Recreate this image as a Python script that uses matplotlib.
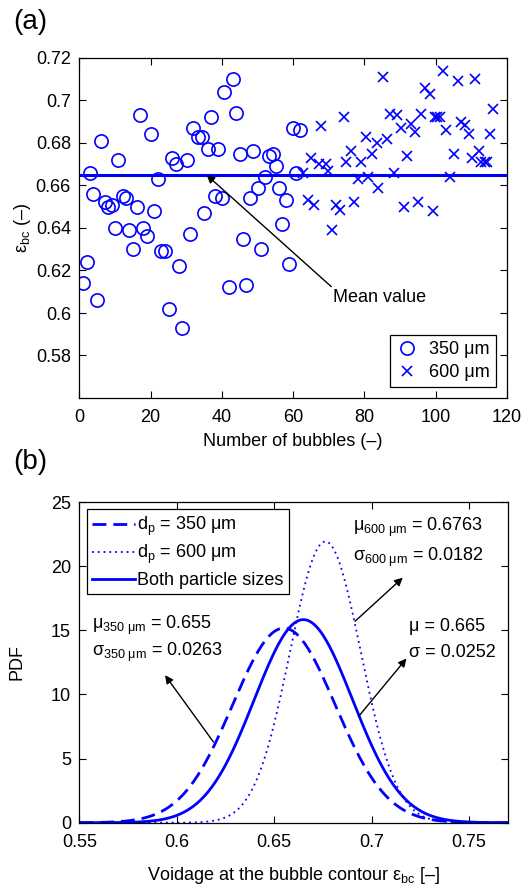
import numpy as np
import matplotlib
matplotlib.use('Agg')
import matplotlib.pyplot as plt

plt.rcParams['font.family'] = ['Liberation Sans', 'DejaVu Sans']
plt.rcParams['mathtext.fontset'] = 'custom'
plt.rcParams['mathtext.rm'] = 'Liberation Sans'
plt.rcParams['mathtext.it'] = 'Liberation Sans:italic'
plt.rcParams['mathtext.default'] = 'regular'

# DATA - panel (a): voidage at the bubble contour per bubble
x_350 = [0.9, 2.1, 3.0, 3.9, 4.9, 6.1, 7.2, 8.1, 9.1, 10.0, 10.9, 12.2, 13.0, 14.0,
         15.1, 16.1, 17.0, 17.9, 19.0, 20.1, 21.0, 22.2, 22.9, 24.0, 25.1, 25.9,
         27.0, 28.0, 28.9, 30.1, 31.0, 32.0, 33.2, 34.3, 35.0, 36.0, 36.9, 38.0,
         39.0, 39.9, 40.6, 42.1, 43.2, 43.9, 45.0, 46.0, 46.9, 48.0, 48.8, 50.2,
         51.1, 52.0, 53.3, 54.4, 55.1, 56.1, 57.0, 58.1, 58.8, 60.0, 60.9, 61.9]
eps_350 = [0.614, 0.624, 0.666, 0.656, 0.606, 0.681, 0.652, 0.650, 0.651, 0.640,
           0.672, 0.655, 0.654, 0.639, 0.630, 0.650, 0.693, 0.640, 0.636, 0.684,
           0.648, 0.663, 0.629, 0.629, 0.602, 0.673, 0.670, 0.622, 0.593, 0.672,
           0.637, 0.687, 0.683, 0.683, 0.647, 0.677, 0.692, 0.655, 0.677, 0.654,
           0.704, 0.612, 0.710, 0.694, 0.675, 0.635, 0.613, 0.654, 0.676, 0.659,
           0.630, 0.664, 0.674, 0.675, 0.669, 0.659, 0.642, 0.653, 0.623, 0.687,
           0.666, 0.686]

x_600 = [62.8, 64.2, 65.1, 65.9, 67.3, 67.9, 69.1, 69.8, 70.9, 72.1, 73.1, 74.2,
         74.9, 76.1, 77.2, 78.2, 79.1, 80.3, 81.0, 82.1, 83.4, 83.8, 85.2, 86.2,
         87.1, 88.2, 89.2, 90.2, 91.1, 92.0, 93.2, 94.1, 95.0, 96.0, 96.9, 98.3,
         99.2, 99.7, 100.4, 101.1, 102.0, 103.0, 104.1, 105.1, 106.2, 107.2, 108.1,
         109.2, 110.1, 111.1, 112.1, 112.8, 113.7, 114.5, 115.1, 116.0]
eps_600 = [0.666, 0.653, 0.673, 0.651, 0.670, 0.688, 0.670, 0.667, 0.639, 0.651,
           0.6485, 0.692, 0.671, 0.676, 0.652, 0.663, 0.671, 0.683, 0.664, 0.675,
           0.680, 0.659, 0.711, 0.682, 0.6935, 0.666, 0.693, 0.687, 0.650, 0.674,
           0.689, 0.685, 0.652, 0.6935, 0.706, 0.703, 0.648, 0.692, 0.692, 0.692,
           0.714, 0.686, 0.664, 0.675, 0.709, 0.690, 0.6885, 0.684, 0.673, 0.710,
           0.676, 0.671, 0.671, 0.671, 0.684, 0.696]

eps_mean = 0.665

# DATA - panel (b): normal fits (mean, std) as stated on the chart
fit_labels = ['d$_p$ = 350 μm', 'd$_p$ = 600 μm', 'Both particle sizes']
fit_mu = [0.655, 0.6763, 0.665]
fit_sigma = [0.0263, 0.0182, 0.0252]
fit_styles = [dict(ls=(0, (5, 2.5)), lw=2.0), dict(ls=(0, (1, 2.2)), lw=1.3), dict(ls='-', lw=2.0)]

blue = '#0000ff'
fs = 13

fig = plt.figure(figsize=(5.23, 8.88), dpi=100)

# PANEL (a)
ax1 = fig.add_axes([79.3 / 523, 1 - 398 / 888, (507 - 79.3) / 523, (398 - 58) / 888])
ax1.plot(x_350, eps_350, 'o', mfc='none', mec=blue, ms=9.5, mew=1.2, label='350 μm')
ax1.plot(x_600, eps_600, 'x', color=blue, ms=7, mew=1.2, label='600 μm')
ax1.axhline(eps_mean, color=blue, lw=2.2)
ax1.annotate('', xy=(35.7, 0.665), xytext=(70.7, 0.6124),
             arrowprops=dict(arrowstyle='-|>', color='k', lw=1, mutation_scale=12,
                             shrinkA=0, shrinkB=0))
ax1.text(71.2, 0.6073, 'Mean value', fontsize=fs, va='center', ha='left')

ax1.set_xlim(0, 120)
ax1.set_ylim(0.56, 0.72)
ax1.set_xticks(range(0, 121, 20))
yt = [0.58, 0.60, 0.62, 0.64, 0.66, 0.68, 0.70, 0.72]
ax1.set_yticks(yt)
ax1.set_yticklabels(['0.58', '0.6', '0.62', '0.64', '0.66', '0.68', '0.7', '0.72'])
ax1.set_xlabel('Number of bubbles (–)', fontsize=fs, labelpad=5)
ax1.set_ylabel('ε$_{bc}$ (–)', fontsize=fs, labelpad=2)
leg1 = ax1.legend(loc='lower right', fontsize=fs, frameon=True, fancybox=False,
                  edgecolor='k', framealpha=1, handlelength=1.2, handletextpad=0.6,
                  borderpad=0.35, labelspacing=0.3, borderaxespad=0.6)
leg1.get_frame().set_linewidth(0.9)

# PANEL (b)
ax2 = fig.add_axes([79.3 / 523, 1 - 822.7 / 888, (508 - 79.3) / 523, (822.7 - 502) / 888])
xx = np.linspace(0.55, 0.77, 600)
for lab, mu, sg, st in zip(fit_labels, fit_mu, fit_sigma, fit_styles):
    pdf = np.exp(-0.5 * ((xx - mu) / sg) ** 2) / (sg * np.sqrt(2 * np.pi))
    ax2.plot(xx, pdf, color=blue, label=lab, **st)

arr = dict(arrowstyle='-|>', color='k', lw=1, mutation_scale=12, shrinkA=0, shrinkB=0)
ax2.annotate('', xy=(0.716, 19.1), xytext=(0.6915, 15.7), arrowprops=arr)
ax2.annotate('', xy=(0.594, 11.5), xytext=(0.6188, 6.3), arrowprops=arr)
ax2.annotate('', xy=(0.7179, 12.8), xytext=(0.6934, 8.3), arrowprops=arr)

ax2.text(0.6907, 23.0, 'μ$_{600\\ μm}$ = 0.6763', fontsize=fs, va='center')
ax2.text(0.6907, 20.7, 'σ$_{600\\ μm}$ = 0.0182', fontsize=fs, va='center')
ax2.text(0.5565, 15.4, 'μ$_{350\\ μm}$ = 0.655', fontsize=fs, va='center')
ax2.text(0.5565, 13.3, 'σ$_{350\\ μm}$ = 0.0263', fontsize=fs, va='center')
ax2.text(0.7192, 15.3, 'μ = 0.665', fontsize=fs, va='center')
ax2.text(0.7192, 13.3, 'σ = 0.0252', fontsize=fs, va='center')

ax2.set_xlim(0.55, 0.77)
ax2.set_ylim(0, 25)
ax2.set_xticks([0.55, 0.60, 0.65, 0.70, 0.75])
ax2.set_xticklabels(['0.55', '0.6', '0.65', '0.7', '0.75'])
ax2.set_yticks(range(0, 26, 5))
ax2.set_xlabel('Voidage at the bubble contour ε$_{bc}$ [–]', fontsize=fs, labelpad=10)
ax2.set_ylabel('PDF', fontsize=fs, labelpad=18)
leg2 = ax2.legend(loc='upper left', fontsize=fs, frameon=True, fancybox=False,
                  edgecolor='k', framealpha=1, handlelength=2.4, handletextpad=0.1,
                  borderpad=0.3, labelspacing=0.3, borderaxespad=0.4)
leg2.get_frame().set_linewidth(0.9)

for ax in (ax1, ax2):
    ax.tick_params(direction='in', top=True, right=True, length=5, width=0.8,
                   labelsize=fs)
    ax.tick_params(axis='x', pad=8)
    ax.tick_params(axis='y', pad=6)
    for sp in ax.spines.values():
        sp.set_linewidth(0.9)

fig.text(13 / 523, 1 - 22 / 888, '(a)', fontsize=20, va='center', ha='left')
fig.text(13 / 523, 1 - 462 / 888, '(b)', fontsize=20, va='center', ha='left')

fig.savefig('out.png', dpi=100)
